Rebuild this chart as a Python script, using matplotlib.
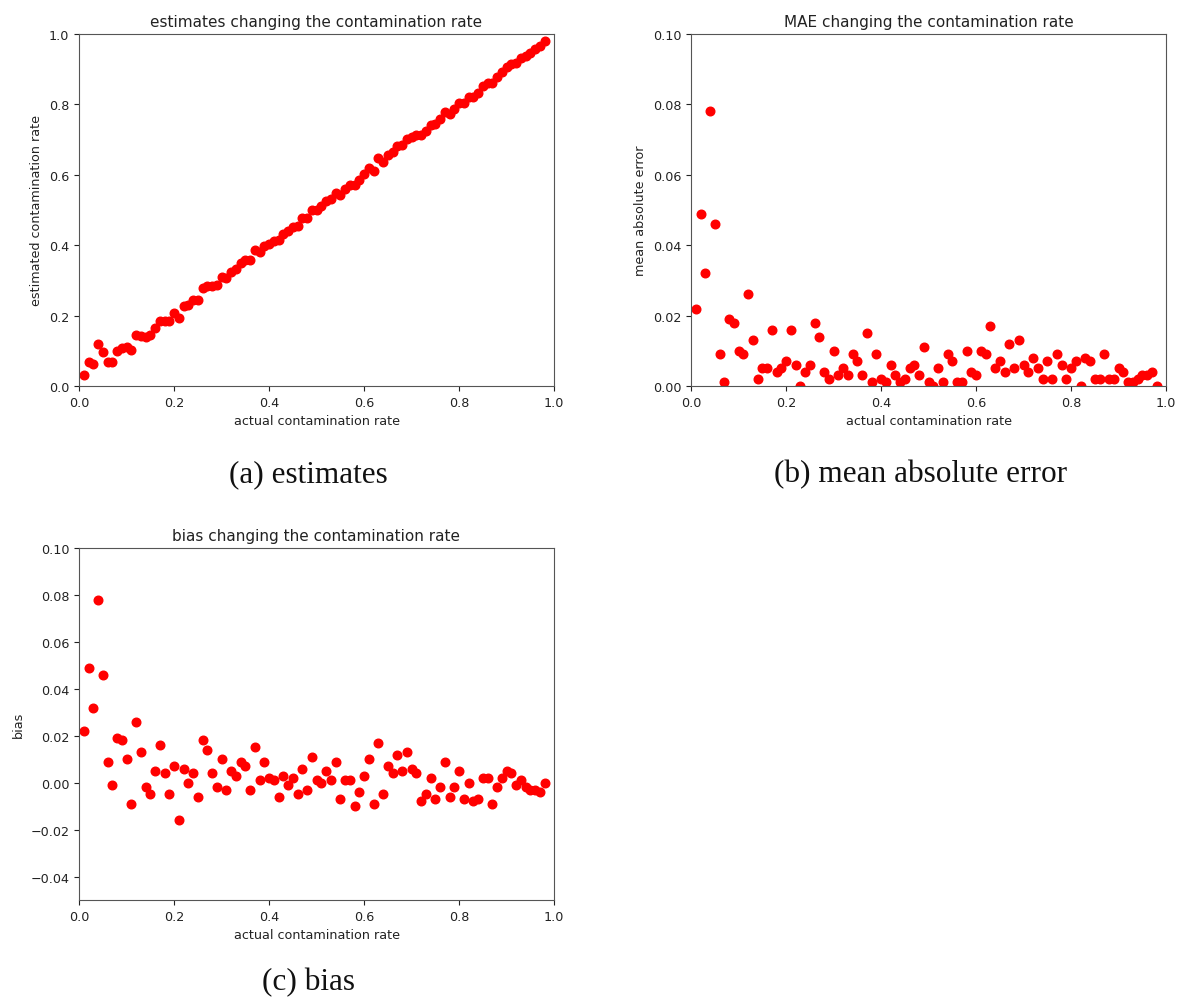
import numpy as np
import matplotlib
matplotlib.use("Agg")
import matplotlib.pyplot as plt

# actual contamination rates 0.01 ... 0.98
actual_rate = np.round(np.arange(1, 99) * 0.01, 2)

estimated_rate = [
    0.032, 0.069, 0.062, 0.118, 0.096, 0.069, 0.069, 0.099, 0.108, 0.110,
    0.101, 0.146, 0.143, 0.138, 0.145, 0.165, 0.186, 0.184, 0.185, 0.207,
    0.194, 0.226, 0.230, 0.244, 0.244, 0.278, 0.284, 0.284, 0.288, 0.310,
    0.307, 0.325, 0.333, 0.349, 0.357, 0.357, 0.385, 0.381, 0.399, 0.402,
    0.411, 0.414, 0.433, 0.439, 0.452, 0.455, 0.476, 0.477, 0.501, 0.501,
    0.510, 0.525, 0.531, 0.549, 0.543, 0.561, 0.571, 0.570, 0.586, 0.603,
    0.620, 0.611, 0.647, 0.635, 0.657, 0.664, 0.682, 0.685, 0.703, 0.706,
    0.714, 0.712, 0.725, 0.742, 0.743, 0.758, 0.779, 0.774, 0.788, 0.805,
    0.803, 0.820, 0.822, 0.833, 0.852, 0.862, 0.861, 0.878, 0.892, 0.905,
    0.914, 0.919, 0.931, 0.938, 0.947, 0.957, 0.966, 0.980,
]

mae = [
    0.022, 0.049, 0.032, 0.078, 0.046, 0.009, 0.001, 0.019, 0.018, 0.010,
    0.009, 0.026, 0.013, 0.002, 0.005, 0.005, 0.016, 0.004, 0.005, 0.007,
    0.016, 0.006, 0.000, 0.004, 0.006, 0.018, 0.014, 0.004, 0.002, 0.010,
    0.003, 0.005, 0.003, 0.009, 0.007, 0.003, 0.015, 0.001, 0.009, 0.002,
    0.001, 0.006, 0.003, 0.001, 0.002, 0.005, 0.006, 0.003, 0.011, 0.001,
    0.000, 0.005, 0.001, 0.009, 0.007, 0.001, 0.001, 0.010, 0.004, 0.003,
    0.010, 0.009, 0.017, 0.005, 0.007, 0.004, 0.012, 0.005, 0.013, 0.006,
    0.004, 0.008, 0.005, 0.002, 0.007, 0.002, 0.009, 0.006, 0.002, 0.005,
    0.007, 0.000, 0.008, 0.007, 0.002, 0.002, 0.009, 0.002, 0.002, 0.005,
    0.004, 0.001, 0.001, 0.002, 0.003, 0.003, 0.004, 0.000,
]

bias = [
    0.022, 0.049, 0.032, 0.078, 0.046, 0.009, -0.001, 0.019, 0.018, 0.010,
    -0.009, 0.026, 0.013, -0.002, -0.005, 0.005, 0.016, 0.004, -0.005, 0.007,
    -0.016, 0.006, 0.000, 0.004, -0.006, 0.018, 0.014, 0.004, -0.002, 0.010,
    -0.003, 0.005, 0.003, 0.009, 0.007, -0.003, 0.015, 0.001, 0.009, 0.002,
    0.001, -0.006, 0.003, -0.001, 0.002, -0.005, 0.006, -0.003, 0.011, 0.001,
    0.000, 0.005, 0.001, 0.009, -0.007, 0.001, 0.001, -0.010, -0.004, 0.003,
    0.010, -0.009, 0.017, -0.005, 0.007, 0.004, 0.012, 0.005, 0.013, 0.006,
    0.004, -0.008, -0.005, 0.002, -0.007, -0.002, 0.009, -0.006, -0.002, 0.005,
    -0.007, 0.000, -0.008, -0.007, 0.002, 0.002, -0.009, -0.002, 0.002, 0.005,
    0.004, -0.001, 0.001, -0.002, -0.003, -0.003, -0.004, 0.000,
]

TEXT = "#222222"
SPINE = "#555555"
plt.rcParams.update({
    "font.family": "DejaVu Sans",
    "font.size": 9.2,
    "text.color": TEXT,
    "axes.labelcolor": TEXT,
    "xtick.color": TEXT,
    "ytick.color": TEXT,
    "axes.edgecolor": SPINE,
    "axes.titlesize": 11.0,
    "axes.titlepad": 5.5,
})

W, H = 1184, 1003
fig = plt.figure(figsize=(W / 100, H / 100), dpi=100)


def px_axes(left, top, right, bottom):
    return fig.add_axes([left / W, 1 - bottom / H, (right - left) / W, (bottom - top) / H])


ax_a = px_axes(79, 35, 554, 387)
ax_b = px_axes(691, 35, 1166, 387)
ax_c = px_axes(79, 549, 554, 901)

marker = dict(linestyle="none", marker="o", color="red", markersize=6.2)

ax_a.plot(actual_rate, estimated_rate, **marker)
ax_a.set_xlim(0, 1)
ax_a.set_ylim(0, 1)
ax_a.set_title("estimates changing the contamination rate")
ax_a.set_xlabel("actual contamination rate")
ax_a.set_ylabel("estimated contamination rate")

ax_b.plot(actual_rate, mae, **marker)
ax_b.set_xlim(0, 1)
ax_b.set_ylim(0, 0.10)
ax_b.set_yticks(np.arange(0, 0.101, 0.02))
ax_b.set_title("MAE changing the contamination rate")
ax_b.set_xlabel("actual contamination rate")
ax_b.set_ylabel("mean absolute error")

ax_c.plot(actual_rate, bias, **marker)
ax_c.set_xlim(0, 1)
ax_c.set_ylim(-0.05, 0.10)
ax_c.set_yticks(np.arange(-0.04, 0.101, 0.02))
ax_c.set_title("bias changing the contamination rate")
ax_c.set_xlabel("actual contamination rate")
ax_c.set_ylabel("bias")

for ax in (ax_a, ax_b, ax_c):
    ax.set_xticks(np.arange(0, 1.01, 0.2))

cap = dict(family="Liberation Serif", fontsize=22.5, color="#111111", ha="center", va="baseline")
fig.text(308 / W, 1 - 482 / H, "(a) estimates", **cap)
fig.text(921 / W, 1 - 482 / H, "(b) mean absolute error", **cap)
fig.text(308 / W, 1 - 990 / H, "(c) bias", **cap)

fig.savefig("out.png", dpi=100)
